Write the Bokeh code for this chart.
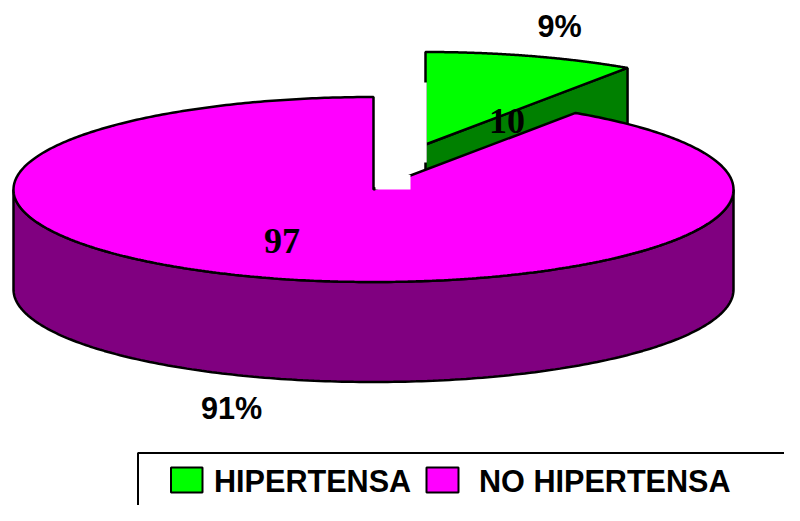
import numpy as np
from bokeh.plotting import figure
from bokeh.models import Range1d
from bokeh.core.properties import value
from bokeh.embed import file_html
from bokeh.resources import INLINE

categories = ["HIPERTENSA", "NO HIPERTENSA"]
counts = [10, 97]
percents = ["9%", "91%"]
top_colors = ["#00FF00", "#FF00FF"]
side_colors = ["#008000", "#800080"]

# pie geometry in pixels
CX, CY, RX, RY, DEPTH = 373.0, 189.0, 360.0, 92.5, 100.0
OFF_X, OFF_Y = 52.0, -45.0   # exploded slice offset
LW = 2.5
SWEEP_TWEAK = np.radians(0.5)

p = figure(width=784, height=505, output_backend="svg", toolbar_location=None,
           x_range=Range1d(0, 784), y_range=Range1d(505, 0), min_border=0,
           outline_line_color=None, background_fill_color="white", border_fill_color="white")
p.axis.visible = False
p.grid.visible = False

sweep = 2 * np.pi * counts[0] / sum(counts) + SWEEP_TWEAK

def arc(a0, a1, cx, cy, n=200):
    t = np.linspace(a0, a1, n)
    return cx + RX * np.sin(t), cy - RY * np.cos(t)

BLK = "black"
# exploded slice: side wall then top
gx, gy = CX + OFF_X, CY + OFF_Y
tipx, tipy = arc(sweep, sweep, gx, gy, 1)
p.patch([gx, tipx[0], tipx[0], gx], [gy, tipy[0], tipy[0] + DEPTH, gy + DEPTH],
        fill_color=side_colors[0], line_color=BLK, line_width=LW)
ax, ay = arc(0, sweep, gx, gy)
p.patch(np.r_[gx, ax], np.r_[gy, ay], fill_color=top_colors[0], line_color=BLK, line_width=LW)
# gap in the slice's left edge
p.line([gx - 0.2, gx - 0.2], [gy - 62, gy + 18], line_color="white", line_width=2.8)

# main slice: side wall then top
bx, by = arc(np.pi / 2, 3 * np.pi / 2, CX, CY)
p.patch(np.r_[bx, bx[::-1]], np.r_[by, by[::-1] + DEPTH],
        fill_color=side_colors[1], line_color=BLK, line_width=LW)
mx, my = arc(sweep, 2 * np.pi, CX, CY, 500)
p.patch(np.r_[CX, mx], np.r_[CY, my], fill_color=top_colors[1], line_color=BLK, line_width=LW)
# white notch at the centre of the pie
p.quad(left=[CX + 2], right=[CX + 37], top=[CY - 14.5], bottom=[CY], fill_color="white", line_color=None)

# labels
arial = value("Liberation Sans")
serif = value("Liberation Serif")
SANS = "30.6px"
SERIF = "36px"
p.text(x=[559], y=[25.5], text=[percents[0]], text_font=arial, text_font_style="bold",
       text_font_size=SANS, text_align="center", text_baseline="middle", text_color="black")
p.text(x=[231], y=[407.5], text=[percents[1]], text_font=arial, text_font_style="bold",
       text_font_size=SANS, text_align="center", text_baseline="middle", text_color="black")
p.text(x=[506.5], y=[120], text=[str(counts[0])], text_font=serif, text_font_style="bold",
       text_font_size=SERIF, text_align="center", text_baseline="middle", text_color="black")
p.text(x=[281.5], y=[240], text=[str(counts[1])], text_font=serif, text_font_style="bold",
       text_font_size=SERIF, text_align="center", text_baseline="middle", text_color="black")

# legend frame (runs off the right and bottom edges)
p.line([137.5, 137.5, 800], [521, 452.5, 452.5], line_color=BLK, line_width=2)
p.quad(left=[170.5, 426], right=[202, 458], top=[467, 467], bottom=[492, 492],
       fill_color=top_colors, line_color=BLK, line_width=2)
p.text(x=[213.5, 478.5], y=[480.5, 480.5], text=categories, text_font=arial, text_font_style="bold",
       text_font_size=SANS, text_align="left", text_baseline="middle", text_color="black")

open("out.html", "w").write(file_html(p, INLINE))
